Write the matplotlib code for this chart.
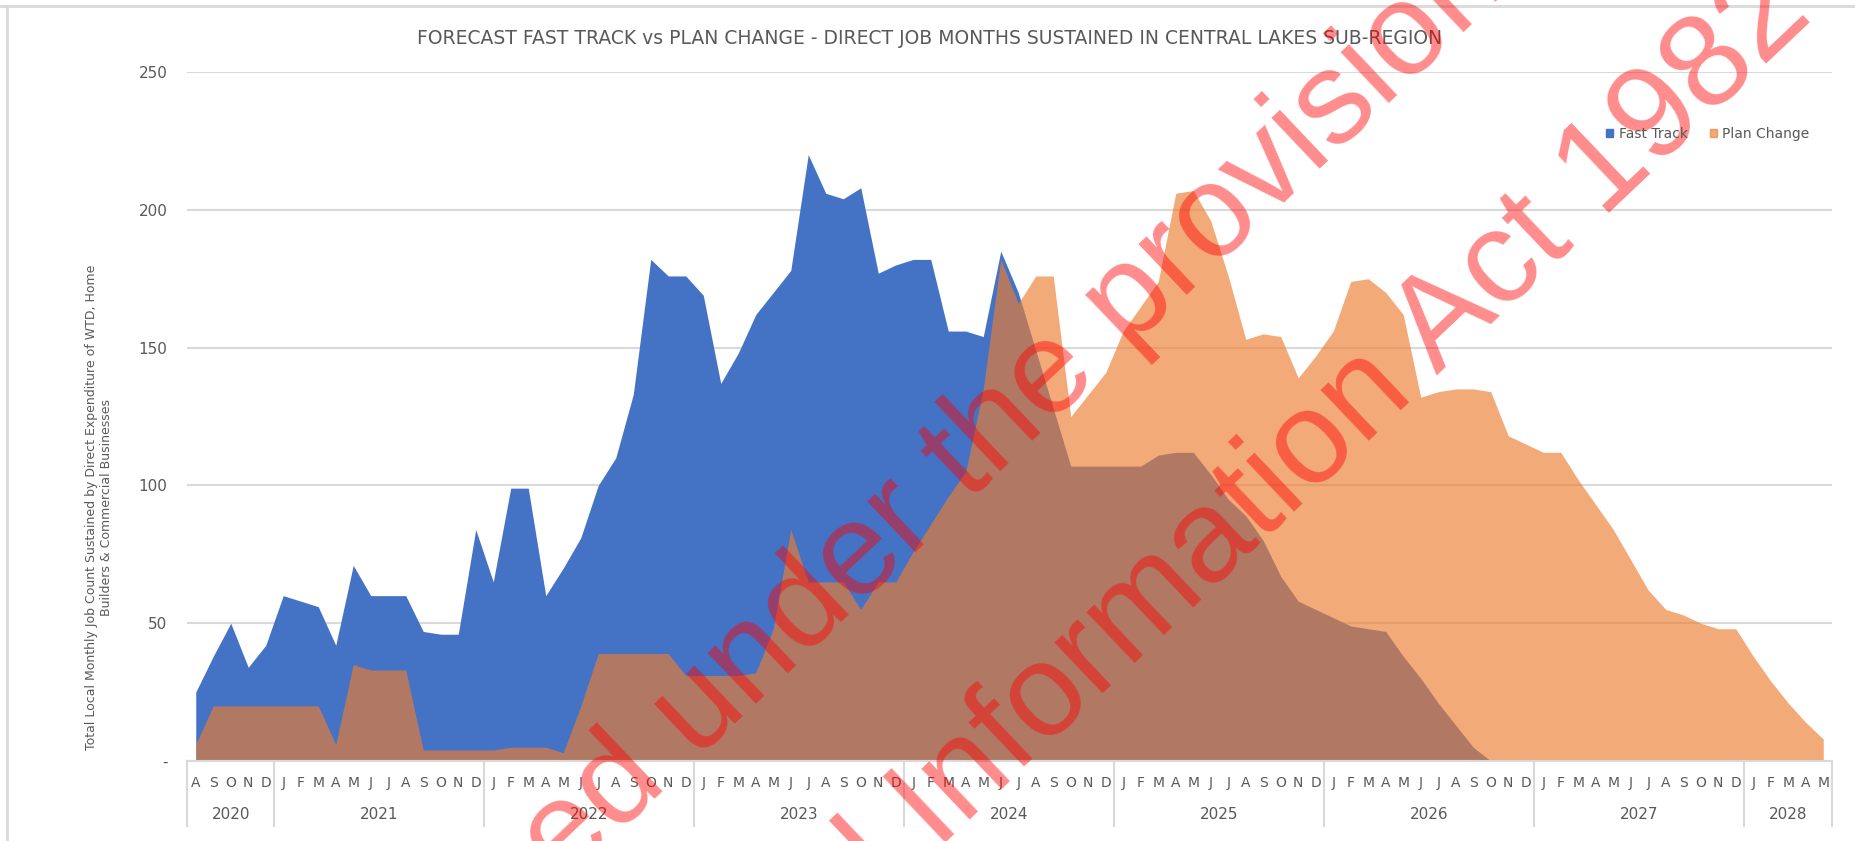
"""Forecast Fast Track vs Plan Change - direct job months sustained (area chart)."""

import matplotlib
matplotlib.use("Agg")
import matplotlib.pyplot as plt
from matplotlib.lines import Line2D
from matplotlib.patches import Patch
import matplotlib.transforms as mtransforms

# ---------------------------------------------------------------------------- #
# data (monthly, Aug 2020 .. May 2028)
# ---------------------------------------------------------------------------- #
MONTHS = (["A", "S", "O", "N", "D"]
          + ["J", "F", "M", "A", "M", "J", "J", "A", "S", "O", "N", "D"] * 7
          + ["J", "F", "M", "A", "M"])
YEARS = ["2020", "2021", "2022", "2023", "2024", "2025", "2026", "2027", "2028"]
YEAR_LEN = [5, 12, 12, 12, 12, 12, 12, 12, 5]

fast_track = [
    25, 38, 50, 34, 42,                                   # 2020
    60, 58, 56, 42, 71, 60, 60, 60, 47, 46, 46, 84,       # 2021
    65, 99, 99, 60, 70, 81, 100, 110, 133, 182, 176, 176,  # 2022
    169, 137, 148, 162, 170, 178, 220, 206, 204, 208, 177, 180,  # 2023
    182, 182, 156, 156, 154, 185, 170, 149, 128, 107, 107, 107,  # 2024
    107, 107, 111, 112, 112, 104, 95, 89, 80, 67, 58, 55,  # 2025
    52, 49, 48, 47, 38, 30, 21, 13, 5, 0, 0, 0,            # 2026
    0, 0, 0, 0, 0, 0, 0, 0, 0, 0, 0, 0,                    # 2027
    0, 0, 0, 0, 0,                                         # 2028
]
plan_change = [
    6, 20, 20, 20, 20,
    20, 20, 20, 6, 35, 33, 33, 33, 4, 4, 4, 4,
    4, 5, 5, 5, 3, 20, 39, 39, 39, 39, 39, 31,
    31, 31, 31, 32, 48, 84, 65, 65, 65, 55, 65, 65,
    76, 86, 96, 105, 135, 182, 166, 176, 176, 125, 133, 141,
    156, 165, 174, 206, 207, 196, 176, 153, 155, 154, 139, 147,
    156, 174, 175, 170, 162, 132, 134, 135, 135, 134, 118, 115,
    112, 112, 102, 93, 84, 73, 62, 55, 53, 50, 48, 48,
    38, 29, 21, 14, 8,
]
assert len(MONTHS) == len(fast_track) == len(plan_change) == 94

TITLE = ("FORECAST FAST TRACK vs PLAN CHANGE - DIRECT JOB MONTHS SUSTAINED "
         "IN CENTRAL LAKES SUB-REGION")
YLABEL = ("Total Local Monthly Job Count Sustained by Direct Expenditure of WTD, Home\n"
          "Builders & Commercial Businesses")
WATERMARK = ["Released under the provisions of the", "Official Information Act 1982"]

BLUE = "#4472C4"
ORANGE = "#ED7D31"
TEXT = "#595959"
GRID = "#D9D9D9"
NARROW = ["Liberation Sans Narrow", "DejaVu Sans"]

W, H = 1856, 841


def fx(px):
    return px / W


def fy(py):
    return 1 - py / H


fig = plt.figure(figsize=(W / 100, H / 100), dpi=100)
ax = fig.add_axes([fx(187), fy(761), fx(1832) - fx(187), fy(72) - fy(761)])

x = list(range(len(MONTHS)))
ax.fill_between(x, 0, fast_track, color=BLUE, lw=0, label="Fast Track")
ax.fill_between(x, 0, plan_change, color=ORANGE, alpha=0.65, lw=0, label="Plan Change")

ax.set_xlim(-0.5, len(MONTHS) - 0.5)
ax.set_ylim(0, 250)
ax.set_yticks(range(0, 251, 50))
ax.set_yticklabels(["-"] + [str(v) for v in range(50, 251, 50)])
ax.yaxis.grid(True, color=GRID, lw=1.5)
ax.set_axisbelow(True)
ax.tick_params(axis="y", length=0, pad=14, labelsize=11, labelcolor=TEXT)
for lab in ax.get_yticklabels():
    lab.set_family(NARROW)

ax.set_xticks(x)
ax.set_xticklabels(MONTHS)
ax.tick_params(axis="x", length=0, pad=11, labelsize=10, labelcolor=TEXT)
for lab in ax.get_xticklabels():
    lab.set_family(NARROW)

for side in ("top", "right", "left"):
    ax.spines[side].set_visible(False)
ax.spines["bottom"].set_color(GRID)
ax.spines["bottom"].set_linewidth(1.5)

# two-level category axis: year labels and separators
trans = mtransforms.blended_transform_factory(ax.transData, ax.transAxes)
start = -0.5
bounds = [start]
for year, n in zip(YEARS, YEAR_LEN):
    ax.text(start + n / 2, -0.077, year, transform=trans, ha="center", va="center",
            fontsize=11, color=TEXT, family=NARROW)
    start += n
    bounds.append(start)
for b in bounds:
    ax.add_line(Line2D([b, b], [0, -0.094], transform=trans, color=GRID, lw=1.5,
                       clip_on=False))

fig.text(fx(930), fy(38), TITLE, ha="center", va="center", fontsize=13.5, color=TEXT,
         family=NARROW)
fig.text(fx(99), fy(507), YLABEL, rotation=90, ha="center", va="center",
         multialignment="center", fontsize=9, color=TEXT, linespacing=1.25)

handles = [Patch(color=BLUE), Patch(color=ORANGE, alpha=0.65)]
fig.legend(handles, ["Fast Track", "Plan Change"], loc="center",
           bbox_to_anchor=(fx(1708), fy(134)), ncol=2, frameon=False,
           handlelength=0.5, handleheight=0.5, handletextpad=0.4, columnspacing=1.6,
           prop={"family": NARROW, "size": 10}, labelcolor=TEXT)

# chart area border (top and left edges visible in the crop)
fig.add_artist(Line2D([0, 1], [fy(6), fy(6)], transform=fig.transFigure, color=GRID, lw=2))
fig.add_artist(Line2D([fx(7), fx(7)], [0, fy(6)], transform=fig.transFigure, color=GRID, lw=2))

# release watermark across the chart
for (bx, by), line in zip([(1045, 430), (1217, 585)], WATERMARK):
    fig.text(fx(bx), fy(by), line, rotation=43.5, rotation_mode="anchor", ha="center",
             va="baseline", fontsize=95, color="red", alpha=0.45, family="Liberation Sans")

fig.savefig("out.png", dpi=100)
